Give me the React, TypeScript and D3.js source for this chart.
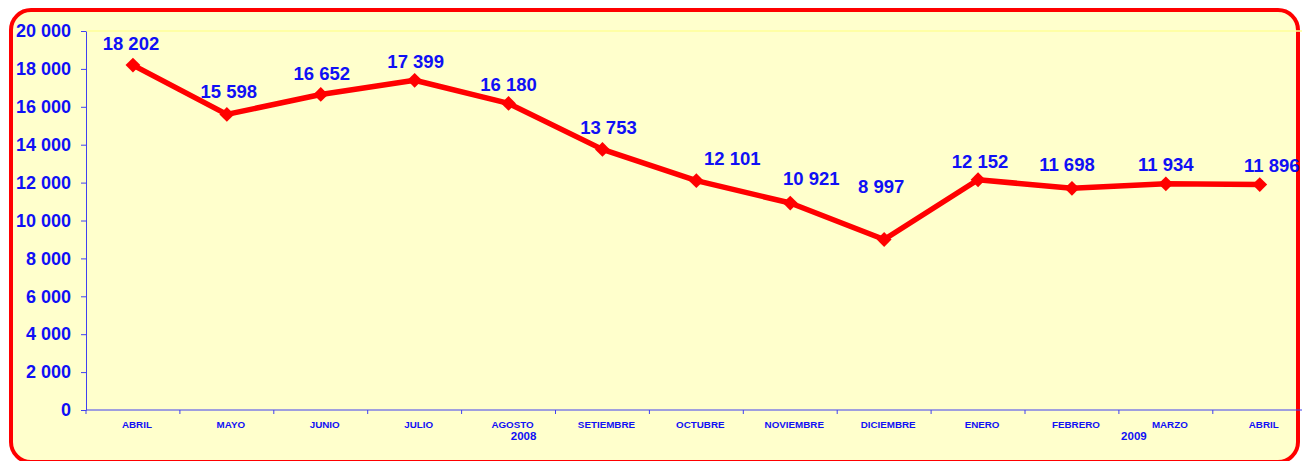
import { useEffect, useRef } from 'react';
import * as d3 from 'd3';

// Monthly values, April 2008 -> April 2009
const months = ['ABRIL', 'MAYO', 'JUNIO', 'JULIO', 'AGOSTO', 'SETIEMBRE', 'OCTUBRE', 'NOVIEMBRE', 'DICIEMBRE', 'ENERO', 'FEBRERO', 'MARZO', 'ABRIL'];
const values = [18202, 15598, 16652, 17399, 16180, 13753, 12101, 10921, 8997, 12152, 11698, 11934, 11896];
const yTicks = [0, 2000, 4000, 6000, 8000, 10000, 12000, 14000, 16000, 18000, 20000];
const years = [
  { label: '2008', from: 0, to: 8 },
  { label: '2009', from: 9, to: 12 },
];

// hand-placed data label offsets (Excel labels were dragged around)
const labelNudge: [number, number][] = [
  [-2, -15], [2, -16], [1, -14], [1, -12], [0, -12], [6, -15], [36, -16],
  [21, -18], [-3, -47], [2, -12], [-5, -17], [0, -13], [12, -13],
];

const W = 1302;
const H = 461;
const BLUE = '#1010F5';
const FONT = '"Liberation Sans", Arial, sans-serif';

const fmt = (v: number) => d3.format(',')(v).replace(/,/g, ' ');

const App = () => {
  const svgRef = useRef<SVGSVGElement>(null);

  useEffect(() => {
    if (!svgRef.current) return;
    const svg = d3.select(svgRef.current);
    svg.selectAll('*').remove();

    const left = 86;
    const step = 93.9;
    const top = 31;
    const bottom = 410;

    const keys = months.map((m, i) => `${m}-${i}`);
    const x = d3.scaleBand<string>().domain(keys).range([left, left + step * keys.length]).padding(0);
    const y = d3.scaleLinear().domain([0, 20000]).range([bottom, top]);
    const cx = (i: number) => (x(keys[i]) as number) + x.bandwidth() / 2;

    // frame
    svg.append('rect')
      .attr('x', 11).attr('y', 10)
      .attr('width', 1287).attr('height', 452)
      .attr('rx', 20).attr('ry', 20)
      .attr('fill', '#FFFFCC')
      .attr('stroke', '#FF0000')
      .attr('stroke-width', 4);

    // plot top edge
    svg.append('line')
      .attr('x1', left).attr('x2', W)
      .attr('y1', top).attr('y2', top)
      .attr('stroke', '#FFFF99').attr('stroke-width', 1.5);

    // y axis
    const yAxis = svg.append('g').attr('transform', `translate(${left},0)`)
      .call(d3.axisLeft(y).tickValues(yTicks).tickSize(5).tickSizeOuter(0).tickFormat(d => fmt(d as number)));
    yAxis.select('.domain').attr('stroke', '#4040F0');
    yAxis.selectAll('.tick line').attr('stroke', '#4040F0');
    yAxis.selectAll('.tick text')
      .attr('x', -15)
      .attr('fill', BLUE)
      .style('font-family', FONT)
      .style('font-weight', 'bold')
      .style('font-size', '18px');

    // x axis: line + boundary ticks
    const xg = svg.append('g');
    xg.append('line')
      .attr('x1', left).attr('x2', W)
      .attr('y1', bottom).attr('y2', bottom)
      .attr('stroke', '#4040F0');
    xg.selectAll('.xt')
      .data(d3.range(keys.length + 1))
      .enter().append('line')
      .attr('x1', i => left + x.step() * i).attr('x2', i => left + x.step() * i)
      .attr('y1', bottom).attr('y2', bottom + 4)
      .attr('stroke', '#4040F0');

    xg.selectAll('.xl')
      .data(months)
      .enter().append('text')
      .attr('x', (_, i) => cx(i) + 4)
      .attr('y', 428)
      .attr('text-anchor', 'middle')
      .attr('fill', BLUE)
      .style('font-family', FONT)
      .style('font-weight', 'bold')
      .style('font-size', '9.8px')
      .text(d => d);

    xg.selectAll('.yr')
      .data(years)
      .enter().append('text')
      .attr('x', d => ((x(keys[d.from]) as number) + (x(keys[d.to]) as number) + x.bandwidth()) / 2 + 15)
      .attr('y', 440)
      .attr('text-anchor', 'middle')
      .attr('fill', BLUE)
      .style('font-family', FONT)
      .style('font-weight', 'bold')
      .style('font-size', '11.5px')
      .text(d => d.label);

    // series line
    const line = d3.line<number>().x((_, i) => cx(i)).y(d => y(d));
    svg.append('path')
      .datum(values)
      .attr('d', line)
      .attr('fill', 'none')
      .attr('stroke', '#FF0000')
      .attr('stroke-width', 5.5)
      .attr('stroke-linejoin', 'round');

    // diamond markers
    const diamond = d3.symbol().type(d3.symbolDiamond2).size(140);
    svg.selectAll('.mk')
      .data(values)
      .enter().append('path')
      .attr('d', diamond)
      .attr('transform', (d, i) => `translate(${cx(i)},${y(d)})`)
      .attr('fill', '#FF0000');

    // data labels
    svg.selectAll('.dl')
      .data(values)
      .enter().append('text')
      .attr('x', (_, i) => cx(i) + labelNudge[i][0])
      .attr('y', (d, i) => y(d) + labelNudge[i][1])
      .attr('text-anchor', 'middle')
      .attr('fill', BLUE)
      .style('font-family', FONT)
      .style('font-weight', 'bold')
      .style('font-size', '18.5px')
      .text(d => fmt(d));
  }, []);

  return (
    <svg
      ref={svgRef}
      width={W}
      height={H}
      style={{ position: 'absolute', left: 0, top: 0, display: 'block', background: '#fff' }}
    />
  );
};

export default App;
